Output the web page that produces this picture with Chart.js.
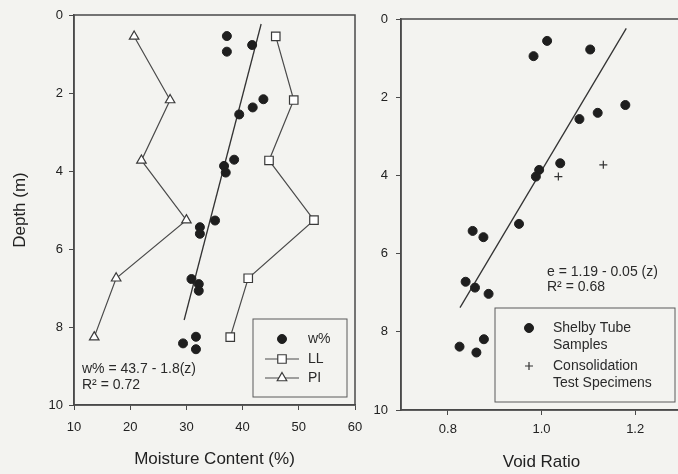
<!DOCTYPE html>
<html lang="en">
<head>
  <meta charset="UTF-8">
  <title>Moisture Content and Void Ratio vs Depth</title>

  <!-- Chart.js for the two profiles -->
  <script src="https://cdn.jsdelivr.net/npm/chart.js"></script>

  <style>
    html, body {
      margin: 0;
      padding: 0;
      background: #f3f3f0;
      overflow: hidden;
    }
    body {
      position: relative;
      width: 678px;
      height: 474px;
    }
    .panel {
      position: absolute;
      top: 0;
      height: 474px;
    }
    #left  { left: 0;     width: 365px; }
    #right { left: 330px; width: 360px; }
  </style>
</head>
<body>

  <div class="panel" id="left"><canvas id="moistureChart" width="365" height="474"></canvas></div>
  <div class="panel" id="right"><canvas id="voidChart" width="360" height="474"></canvas></div>

  <script>
    // ---- data ----

    // axis ticks
    const depthTicks = [0, 2, 4, 6, 8, 10];
    const moistTicks = [10, 20, 30, 40, 50, 60];
    const voidTicks = [0.8, 1.0, 1.2];

    // natural moisture content w% (shelby tube samples)
    const wDepth = [0.54, 0.94, 0.77, 2.16, 2.37, 2.55, 3.71, 3.87, 4.04, 5.27, 5.44, 5.61, 6.77, 6.90, 7.07, 8.25, 8.42, 8.57];
    const wValue = [37.2, 37.2, 41.7, 43.7, 41.8, 39.4, 38.5, 36.7, 37.0, 35.1, 32.4, 32.4, 30.9, 32.2, 32.2, 31.7, 29.4, 31.7];

    // liquid limit and plasticity index
    const limitDepth = [0.55, 2.18, 3.73, 5.26, 6.75, 8.26];
    const llValue = [45.9, 49.1, 44.7, 52.7, 41.0, 37.8];
    const piValue = [20.7, 27.1, 22.0, 30.0, 17.5, 13.6];

    // fitted line w% = 43.7 - 1.8(z), ends as drawn
    const wFitDepth = [0.23, 7.82];
    const wFitValue = [43.3, 29.6];

    // void ratio, shelby tube samples
    const shelbyDepth = [0.56, 0.95, 0.78, 2.20, 2.40, 2.56, 3.69, 3.86, 4.03, 5.24, 5.42, 5.58, 6.72, 6.87, 7.03, 8.19, 8.38, 8.53];
    const shelbyVoid = [1.012, 0.983, 1.104, 1.179, 1.120, 1.081, 1.040, 0.995, 0.988, 0.952, 0.853, 0.876, 0.838, 0.858, 0.887, 0.877, 0.825, 0.861];

    // void ratio, consolidation test specimens
    const consolDepth = [4.03, 3.73];
    const consolVoid = [1.036, 1.132];

    // fitted line e = 1.19 - 0.05(z), ends as drawn
    const eFitDepth = [0.24, 7.38];
    const eFitVoid = [1.181, 0.826];

    // ---- helpers ----
    const FONT = '"Liberation Sans", Arial, Helvetica, sans-serif';
    const INK = '#222';
    const LINE = '#4a4a4a';

    const pts = (xs, ys) => xs.map((x, i) => ({ x: x, y: ys[i] }));

    function axis(ticks, opts) {
      return {
        type: 'linear',
        min: opts.min,
        max: opts.max,
        reverse: !!opts.reverse,
        afterBuildTicks: s => { s.ticks = ticks.map(v => ({ value: v })); },
        afterFit: s => {
          // fixed box sizes so the plot area sits where it does in the figure
          if (opts.width) s.width = opts.width;
          if (opts.height) {
            s.height = opts.height;
            s.paddingLeft = 0;
            s.paddingRight = 0;
          }
        },
        border: { display: true, color: LINE, width: 1.5 },
        grid: { drawOnChartArea: false, drawTicks: true, tickLength: 5, color: LINE },
        ticks: {
          color: INK,
          padding: opts.pad,
          maxRotation: 0,
          font: { family: FONT, size: 13 },
          callback: opts.fmt || (v => v)
        },
        title: opts.title ? {
          display: true,
          text: opts.title,
          color: INK,
          font: { family: FONT, size: 17 },
          padding: opts.titlePad
        } : { display: false }
      };
    }

    // frame, equation text and legend box drawn inside the plot
    const panelDecor = {
      id: 'panelDecor',
      afterDatasetsDraw(chart, args, opts) {
        const ctx = chart.ctx;
        const a = chart.chartArea;
        ctx.save();

        ctx.strokeStyle = LINE;
        ctx.lineWidth = 1.5;
        ctx.strokeRect(a.left, a.top, a.right - a.left, a.bottom - a.top);

        ctx.font = '14px ' + FONT;
        ctx.fillStyle = '#2a2a2a';
        ctx.textBaseline = 'middle';
        opts.notes.forEach(n => ctx.fillText(n.text, n.x, n.y));

        const b = opts.box;
        ctx.lineWidth = 1;
        ctx.strokeStyle = '#5a5a5a';
        ctx.strokeRect(b.x, b.y, b.w, b.h);

        opts.items.forEach(it => {
          const ds = chart.data.datasets[it.dataset];
          if (it.line) {
            ctx.strokeStyle = ds.borderColor;
            ctx.lineWidth = ds.borderWidth;
            ctx.beginPath();
            ctx.moveTo(it.line[0], it.y);
            ctx.lineTo(it.line[1], it.y);
            ctx.stroke();
          }
          ctx.fillStyle = ds.pointBackgroundColor;
          ctx.strokeStyle = ds.pointBorderColor;
          ctx.lineWidth = ds.pointBorderWidth;
          Chart.helpers.drawPoint(ctx, {
            pointStyle: ds.pointStyle,
            radius: ds.pointRadius,
            borderWidth: ds.pointBorderWidth,
            rotation: 0
          }, it.mx, it.y);
          ctx.fillStyle = '#2a2a2a';
          it.text.forEach((t, k) => ctx.fillText(t, it.tx, it.y + k * 17));
        });

        ctx.restore();
      }
    };

    const common = {
      responsive: false,
      animation: false,
      events: [],
      plugins: { legend: { display: false }, tooltip: { enabled: false } }
    };

    // ---- left panel: moisture content ----
    new Chart(document.getElementById('moistureChart'), {
      type: 'scatter',
      data: {
        datasets: [
          {
            label: 'w%',
            data: pts(wValue, wDepth),
            pointStyle: 'circle',
            pointRadius: 4.5,
            pointBackgroundColor: '#1e1e1e',
            pointBorderColor: '#1e1e1e',
            pointBorderWidth: 1
          },
          {
            label: 'LL',
            data: pts(llValue, limitDepth),
            showLine: true,
            borderColor: LINE,
            borderWidth: 1.2,
            pointStyle: 'rect',
            pointRadius: 6,
            pointBackgroundColor: '#ffffff',
            pointBorderColor: '#3a3a3a',
            pointBorderWidth: 1.2
          },
          {
            label: 'PI',
            data: pts(piValue, limitDepth),
            showLine: true,
            borderColor: LINE,
            borderWidth: 1.2,
            pointStyle: 'triangle',
            pointRadius: 5.5,
            pointBackgroundColor: '#ffffff',
            pointBorderColor: '#3a3a3a',
            pointBorderWidth: 1.2
          },
          {
            label: 'fit',
            data: pts(wFitValue, wFitDepth),
            showLine: true,
            borderColor: '#333',
            borderWidth: 1.3,
            pointRadius: 0
          }
        ]
      },
      options: Object.assign({}, common, {
        layout: { padding: { top: 15, right: 10, left: 0, bottom: 0 } },
        scales: {
          x: axis(moistTicks, { min: 10, max: 60, height: 69, pad: 10, title: 'Moisture Content (%)', titlePad: { top: 0, bottom: 4 } }),
          y: axis(depthTicks, { min: 0, max: 10, reverse: true, width: 74, pad: 6, title: 'Depth (m)', titlePad: { top: 10, bottom: 0 } })
        },
        plugins: Object.assign({}, common.plugins, {
          panelDecor: {
            notes: [
              { text: 'w% = 43.7 - 1.8(z)', x: 82, y: 369 },
              { text: 'R\u00b2 = 0.72', x: 82, y: 385 }
            ],
            box: { x: 253, y: 319, w: 94, h: 78 },
            items: [
              { dataset: 0, mx: 282, tx: 308, y: 339, text: ['w%'] },
              { dataset: 1, mx: 282, tx: 308, y: 359, line: [265, 299], text: ['LL'] },
              { dataset: 2, mx: 282, tx: 308, y: 378, line: [265, 299], text: ['PI'] }
            ]
          }
        })
      }),
      plugins: [panelDecor]
    });

    // ---- right panel: void ratio ----
    new Chart(document.getElementById('voidChart'), {
      type: 'scatter',
      data: {
        datasets: [
          {
            label: 'Shelby Tube Samples',
            data: pts(shelbyVoid, shelbyDepth),
            pointStyle: 'circle',
            pointRadius: 4.5,
            pointBackgroundColor: '#1e1e1e',
            pointBorderColor: '#1e1e1e',
            pointBorderWidth: 1
          },
          {
            label: 'Consolidation Test Specimens',
            data: pts(consolVoid, consolDepth),
            pointStyle: 'cross',
            pointRadius: 4,
            pointBackgroundColor: '#333',
            pointBorderColor: '#333',
            pointBorderWidth: 1.2
          },
          {
            label: 'fit',
            data: pts(eFitVoid, eFitDepth),
            showLine: true,
            borderColor: '#333',
            borderWidth: 1.3,
            pointRadius: 0
          }
        ]
      },
      options: Object.assign({}, common, {
        layout: { padding: { top: 19, right: 8, left: 0, bottom: 0 } },
        scales: {
          x: axis(voidTicks, { min: 0.7, max: 1.3, height: 64, pad: 7, fmt: v => v.toFixed(1), title: 'Void Ratio', titlePad: { top: 0, bottom: 1 } }),
          y: axis(depthTicks, { min: 0, max: 10, reverse: true, width: 71, pad: 8 })
        },
        plugins: Object.assign({}, common.plugins, {
          panelDecor: {
            notes: [
              { text: 'e = 1.19 - 0.05 (z)', x: 217, y: 272 },
              { text: 'R\u00b2 = 0.68', x: 217, y: 287 }
            ],
            box: { x: 165, y: 308, w: 180, h: 94 },
            items: [
              { dataset: 0, mx: 199, tx: 223, y: 328, text: ['Shelby Tube', 'Samples'] },
              { dataset: 1, mx: 199, tx: 223, y: 366, text: ['Consolidation', 'Test Specimens'] }
            ]
          }
        })
      }),
      plugins: [panelDecor]
    });
  </script>

</body>
</html>
